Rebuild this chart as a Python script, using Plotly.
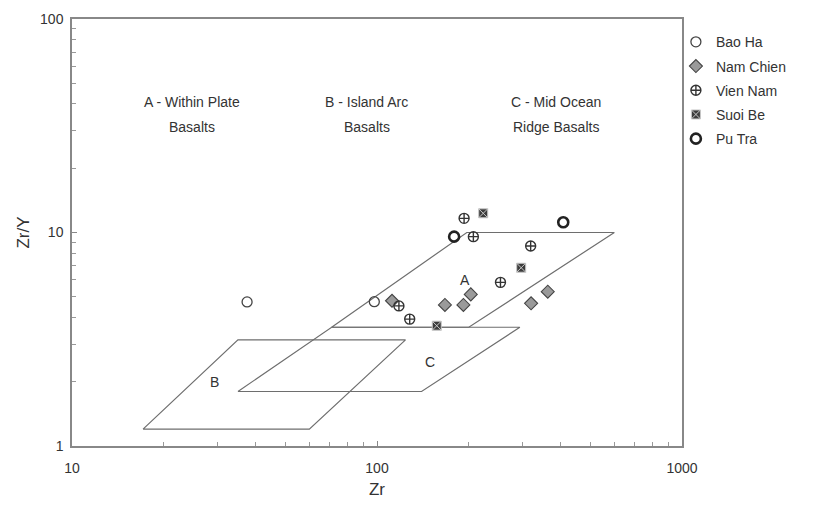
import math
import plotly.graph_objects as go

# Sample data: Zr (ppm) and Zr/Y ratio per locality
bao_ha_zr = [37.5, 98.0]
bao_ha_zry = [4.73, 4.74]

nam_chien_zr = [112, 167, 192, 203, 320, 363]
nam_chien_zry = [4.79, 4.58, 4.58, 5.13, 4.66, 5.28]

vien_nam_zr = [193, 207, 118, 128, 254, 319]
vien_nam_zry = [11.65, 9.56, 4.53, 3.93, 5.84, 8.65]

suoi_be_zr = [223, 297, 157]
suoi_be_zry = [12.3, 6.84, 3.66]

pu_tra_zr = [179, 408]
pu_tra_zry = [9.56, 11.16]

# Discrimination field outlines (Zr, Zr/Y), closed polygons
field_a_zr = [71, 197, 600, 200, 71]
field_a_zry = [3.6, 10, 10, 3.6, 3.6]
field_b_zr = [17.1, 35, 124, 60, 17.1]
field_b_zry = [1.2, 3.14, 3.14, 1.2, 1.2]
field_c_zr = [35, 71, 294, 140, 35]
field_c_zry = [1.8, 3.6, 3.6, 1.8, 1.8]

field_letters = ["A", "B", "C"]
field_letter_zr = [194, 29.4, 149]
field_letter_zry = [6.0, 1.99, 2.47]

# Field captions: two lines each
field_name_top = ["A - Within Plate", "B - Island Arc", "C - Mid Ocean"]
field_name_bottom = ["Basalts", "Basalts", "Ridge Basalts"]
field_name_zr = [24.7, 92.7, 386]
field_name_top_zry = 40.9
field_name_bottom_zry = 31.2

x_ticks = [10, 100, 1000]
y_ticks = [1, 10, 100]
x_minor = [k * 10 ** d for d in (1, 2) for k in range(2, 10)]
y_minor = [k * 10 ** d for d in (0, 1) for k in range(2, 10)]

FONT = "Liberation Sans, Arial, sans-serif"
TXT = "#333333"
EDGE = "#6e6e6e"

fig = go.Figure()

for zr, zry in [(field_a_zr, field_a_zry), (field_b_zr, field_b_zry), (field_c_zr, field_c_zry)]:
    fig.add_trace(go.Scatter(x=zr, y=zry, mode="lines", showlegend=False, hoverinfo="skip",
                             line=dict(color=EDGE, width=1.2)))

fig.add_trace(go.Scatter(x=bao_ha_zr, y=bao_ha_zry, mode="markers", name="Bao Ha",
                         legendgroup="1",
                         marker=dict(symbol="circle-open", size=10, color="#444444",
                                     line=dict(width=1.3, color="#444444"))))
fig.add_trace(go.Scatter(x=nam_chien_zr, y=nam_chien_zry, mode="markers", name="Nam Chien",
                         legendgroup="2",
                         marker=dict(symbol="diamond", size=10, color="#9a9a9a",
                                     line=dict(width=1.1, color="#444444"))))
fig.add_trace(go.Scatter(x=vien_nam_zr, y=vien_nam_zry, mode="markers", name="Vien Nam",
                         legendgroup="3",
                         marker=dict(symbol="circle-cross-open", size=10, color="#333333",
                                     line=dict(width=1.4, color="#333333"))))
fig.add_trace(go.Scatter(x=suoi_be_zr, y=suoi_be_zry, mode="markers", name="Suoi Be",
                         legendgroup="4",
                         marker=dict(symbol="square-x", size=9, color="#3c3c3c",
                                     line=dict(width=1, color="#c8c8c8"))))
fig.add_trace(go.Scatter(x=pu_tra_zr, y=pu_tra_zry, mode="markers", name="Pu Tra",
                         legendgroup="5",
                         marker=dict(symbol="circle-open", size=10, color="#222222",
                                     line=dict(width=2.6, color="#222222"))))

# annotations on log axes take log10 positions
for t, x, y in zip(field_letters, field_letter_zr, field_letter_zry):
    fig.add_annotation(x=math.log10(x), y=math.log10(y), xref="x", yref="y", text=t,
                       showarrow=False, font=dict(family=FONT, size=14, color=TXT))
for top, bottom, x in zip(field_name_top, field_name_bottom, field_name_zr):
    fig.add_annotation(x=math.log10(x), y=math.log10(field_name_top_zry), xref="x", yref="y",
                       text=top, showarrow=False, font=dict(family=FONT, size=14, color=TXT))
    fig.add_annotation(x=math.log10(x), y=math.log10(field_name_bottom_zry), xref="x", yref="y",
                       text=bottom, showarrow=False, font=dict(family=FONT, size=14, color=TXT))

axis_common = dict(
    type="log", showgrid=False, zeroline=False, showline=True, mirror=True,
    linecolor="#888888", linewidth=1.5, ticks="inside", ticklen=5, tickcolor="#888888",
    tickfont=dict(family=FONT, size=14, color=TXT), automargin=False,
)

fig.update_xaxes(range=[1, 3], tickvals=x_ticks, ticktext=[str(v) for v in x_ticks],
                 minor=dict(ticks="inside", ticklen=4, tickcolor="#999999",
                            tickvals=x_minor, showgrid=False),
                 title=dict(text="Zr", font=dict(family=FONT, size=17, color=TXT), standoff=9),
                 ticklabelstandoff=8, **axis_common)
fig.update_yaxes(range=[0, 2], tickvals=y_ticks, ticktext=[str(v) for v in y_ticks],
                 minor=dict(ticks="inside", ticklen=4, tickcolor="#999999",
                            tickvals=y_minor, showgrid=False),
                 title=dict(text="Zr/Y", font=dict(family=FONT, size=17, color=TXT), standoff=6),
                 ticklabelstandoff=4, **axis_common)

fig.update_layout(
    width=830, height=506,
    margin=dict(l=72, r=148, t=19, b=60),
    paper_bgcolor="white", plot_bgcolor="white",
    font=dict(family=FONT, color=TXT),
    legend=dict(x=0.99, xanchor="left", y=0.983, yanchor="top",
                font=dict(family=FONT, size=14, color=TXT),
                traceorder="grouped", tracegroupgap=3,
                bgcolor="rgba(0,0,0,0)"),
)

fig.write_html("out.html")
